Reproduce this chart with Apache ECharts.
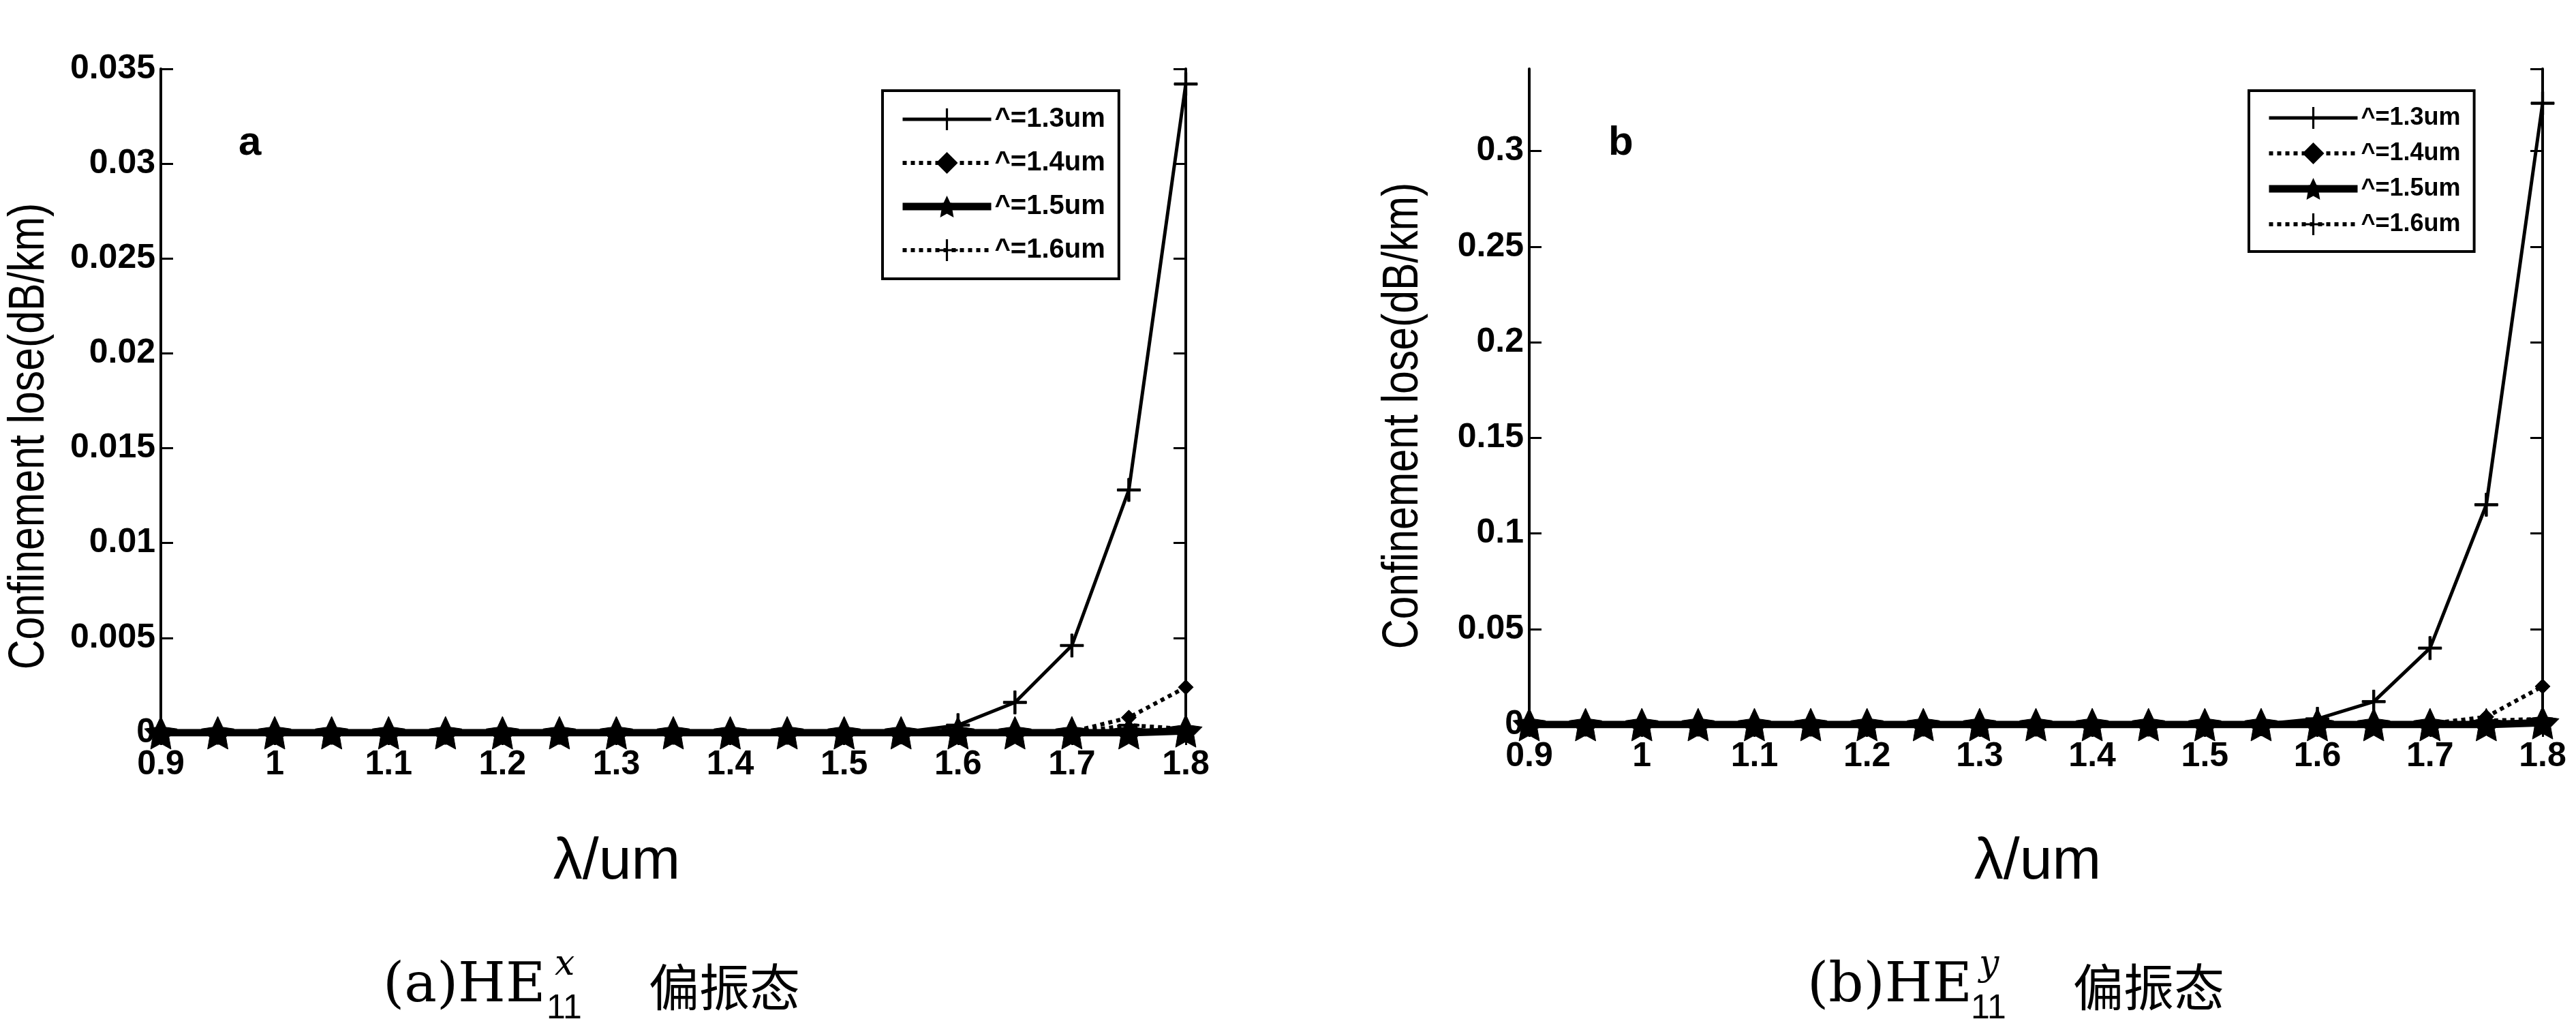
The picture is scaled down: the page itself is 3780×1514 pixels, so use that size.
<!DOCTYPE html>
<html><head><meta charset="utf-8">
<script src="https://cdn.jsdelivr.net/npm/echarts@6/dist/echarts.min.js"></script>
<style>html,body{margin:0;background:#fff}#c{width:3780px;height:1514px}</style>
</head><body><div id="c"></div>
<script>
const xs=[0.9,0.95,1.0,1.05,1.1,1.15,1.2,1.25,1.3,1.35,1.4,1.45,1.5,1.55,1.6,1.65,1.7,1.75,1.8];
const names=['^=1.3um','^=1.4um','^=1.5um','^=1.6um'];
const a13=[0,0,0,0,0,0,0,0,0,0,0,0,0,0.00002,0.0004,0.0016,0.0046,0.0128,0.0342];
const a14=[0,0,0,0,0,0,0,0,0,0,0,0,0,0,0,0,0.00005,0.0008,0.0024];
const a15=[0,0,0,0,0,0,0,0,0,0,0,0,0,0,0,0,0,0,0.0001];
const a16=[0,0,0,0,0,0,0,0,0,0,0,0,0,0,0,0,0,0.0004,0.0002];
const b13=[0,0,0,0,0,0,0,0,0,0,0,0,0,0.0002,0.003,0.012,0.04,0.115,0.325];
const b14=[0,0,0,0,0,0,0,0,0,0,0,0,0,0,0,0,0.0005,0.004,0.02];
const b15=[0,0,0,0,0,0,0,0,0,0,0,0,0,0,0,0,0,0,0.001];
const b16=[0,0,0,0,0,0,0,0,0,0,0,0,0,0,0,0,0,0.002,0.003];
const PLUS='path://M-1.2,-12H1.2V-1.2H12V1.2H1.2V12H-1.2V1.2H-12V-1.2H-1.2Z';
const STAR='path://M0,-10L2.9,-4L9.5,-3.1L4.7,1.5L5.9,8.1L0,5L-5.9,8.1L-4.7,1.5L-9.5,-3.1L-2.9,-4Z';
const F='Arial, Liberation Sans, sans-serif';
const ch=echarts.init(document.getElementById('c'));
const grids=[{left:236,width:1504,top:101,height:974},{left:2244,width:1487,top:101,height:962}];
const st=[{t:'solid',w:5,s:PLUS,z:34},{t:'dotted',w:6,s:'diamond',z:22},{t:'solid',w:11,s:STAR,z:48},{t:'dotted',w:6,s:PLUS,z:30}];
function mkSeries(gi,arrs){
  return arrs.map((d,i)=>({name:names[i],type:'line',xAxisIndex:gi*2,yAxisIndex:gi*2,
    data:xs.map((x,k)=>[x,d[k]]),symbol:st[i].s,symbolSize:st[i].z,showSymbol:true,
    lineStyle:{color:'#000',width:st[i].w,type:st[i].t},itemStyle:{color:'#000',borderColor:'#000'},z:10-i,animation:false}));
}
const LAB={color:'#000',fontSize:50,fontWeight:'bold',fontFamily:F};
function axes(gi,max,interval,fmt){
  const tk={inside:true,length:18,lineStyle:{width:3,color:'#000'}};
  const x={type:'value',gridIndex:gi,min:0.9,max:1.8,interval:0.1,
    axisLine:{lineStyle:{color:'#000',width:4},onZero:false},axisTick:tk,
    axisLabel:{...LAB,margin:22,formatter:v=>String(+v.toFixed(1))},splitLine:{show:false}};
  const xt={type:'value',gridIndex:gi,position:'top',min:0.9,max:1.8,interval:0.1,
    axisLine:{lineStyle:{color:'#000',width:4}},axisTick:tk,axisLabel:{show:false},splitLine:{show:false}};
  const y={type:'value',gridIndex:gi,min:0,max:max,interval:interval,
    axisLine:{show:true,lineStyle:{color:'#000',width:4}},axisTick:{show:true,...tk},
    axisLabel:{...LAB,margin:8,formatter:fmt,showMaxLabel:max<0.04},splitLine:{show:false}};
  const yr={type:'value',gridIndex:gi,position:'right',min:0,max:max,interval:interval,
    axisLine:{show:true,lineStyle:{color:'#000',width:4}},axisTick:{show:true,...tk},axisLabel:{show:false},splitLine:{show:false}};
  return {x:[x,xt],y:[y,yr]};
}
const A=axes(0,0.035,0.005,v=>String(+v.toFixed(3)));
const B=axes(1,0.343,0.05,v=>String(+v.toFixed(2)));
function legend(left,top,fs,gap){return {data:names,orient:'vertical',left:left,top:top,
  itemWidth:130,itemHeight:40,itemGap:gap,padding:[22,20,22,24],borderColor:'#000',borderWidth:4,backgroundColor:'#fff',
  lineStyle:{width:'inherit'},textStyle:{fontSize:fs,fontFamily:F,color:'#000',fontWeight:'bold'}};}
const s1=mkSeries(0,[a13,a14,a15,a16]);
const s2=mkSeries(1,[b13,b14,b15,b16]);
s2.forEach(s=>{s.xAxisIndex=2;s.yAxisIndex=2;});
function caption(x0,letter,sup){
  const serif='DejaVu Serif, Liberation Serif, serif';
  return [
    {type:'text',x:x0,y:1448,style:{text:'('+letter+')HE',fontSize:80,fontFamily:serif,fill:'#000',verticalAlign:'middle'}},
    {type:'text',x:x0+252,y:1416,style:{text:sup,fontSize:52,fontFamily:serif,fontStyle:'italic',fill:'#000',verticalAlign:'middle'}},
    {type:'text',x:x0+240,y:1480,style:{text:'11',fontSize:50,fontFamily:F,fill:'#000',verticalAlign:'middle'}},
    {type:'text',x:x0+390,y:1448,style:{text:'偏振态',fontSize:74,fontFamily:'Noto Sans CJK SC',fill:'#000',verticalAlign:'middle',letterSpacing:10}}
  ];
}
ch.setOption({animation:false,grid:grids,
  xAxis:[...A.x,...B.x],yAxis:[...A.y,...B.y],
  legend:[legend(1295,133,40,24),legend(3300,133,36,16)],
  series:[...s1,...s2],
  graphic:[
    {type:'text',left:350,top:180,style:{text:'a',fontSize:60,fontFamily:F,fill:'#000',fontWeight:'bold'}},
    {type:'text',left:2360,top:180,style:{text:'b',fontSize:60,fontFamily:F,fill:'#000',fontWeight:'bold'}},
    {type:'text',x:44,y:640,rotation:Math.PI/2,scaleX:0.82,style:{text:'Confinement lose(dB/km)',fontSize:74,fontFamily:F,fill:'#000',align:'center',verticalAlign:'middle',letterSpacing:-5}},
    {type:'text',x:2060,y:610,rotation:Math.PI/2,scaleX:0.82,style:{text:'Confinement lose(dB/km)',fontSize:74,fontFamily:F,fill:'#000',align:'center',verticalAlign:'middle',letterSpacing:-5}},
    {type:'text',x:905,y:1265,style:{text:'λ/um',fontSize:86,fontFamily:F,fill:'#000',align:'center',verticalAlign:'middle',letterSpacing:6}},
    {type:'text',x:2990,y:1265,style:{text:'λ/um',fontSize:86,fontFamily:F,fill:'#000',align:'center',verticalAlign:'middle',letterSpacing:6}},
    ...caption(562,'a','x'),...caption(2652,'b','y')
  ]});
</script></body></html>
